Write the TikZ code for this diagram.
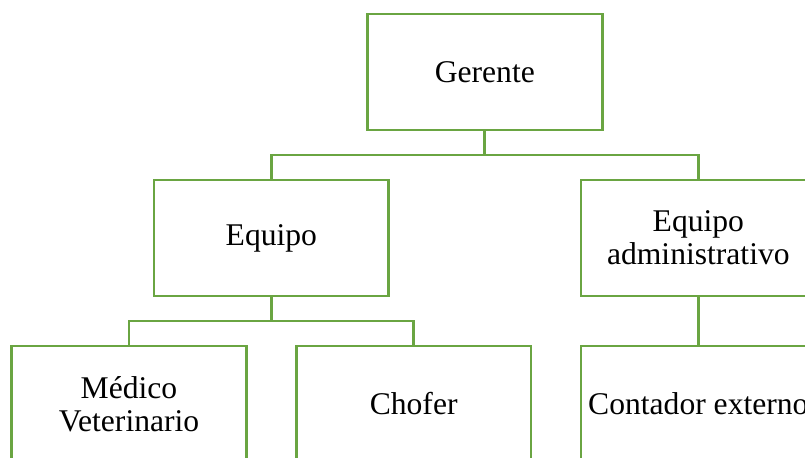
\documentclass[tikz,border=0pt]{standalone}
\usepackage{fontspec}
\setmainfont{Liberation Serif}
\usetikzlibrary{positioning,calc}
\definecolor{orggreen}{RGB}{106,165,66}
\tikzset{
  orgbox/.style={
    rectangle,
    draw=orggreen,
    line width=2.2pt,
    fill=white,
    align=center,
    outer sep=0pt,
    minimum width=176pt,
    minimum height=87pt,
    font=\fontsize{23.7}{25}\selectfont
  },
  link/.style={draw=orggreen, line width=2.2pt}
}

\begin{document}
\begin{tikzpicture}[x=0.75pt, y=-0.75pt, node distance=37.5pt and 37.5pt]
    \useasboundingbox (0,0) rectangle (805,457);
    \clip (0,0) rectangle (805,457);

    \node[orgbox] (med) at (129,404) {Médico\\Veterinario};
    \node[orgbox, right=of med] (chofer) {Chofer};
    \node[orgbox, right=of chofer] (contador) {Contador externo};

    \coordinate (eqfoot) at ($(med.north)!0.5!(chofer.north)$);
    \node[orgbox, above=of eqfoot] (equipo) {Equipo};
    \node[orgbox, above=of contador] (admin) {Equipo\\administrativo};

    \coordinate (gerfoot) at ($(equipo.north)!0.5!(admin.north)$);
    \node[orgbox, above=of gerfoot] (gerente) {Gerente};

    \draw[link] (gerente.south) -- ++(0,25) -| (equipo.north);
    \draw[link] (gerente.south) -- ++(0,25) -| (admin.north);
    \draw[link] (equipo.south) -- ++(0,25) -| (med.north);
    \draw[link] (equipo.south) -- ++(0,25) -| (chofer.north);
    \draw[link] (admin.south) -- (contador.north);
  \end{tikzpicture}
\end{document}
